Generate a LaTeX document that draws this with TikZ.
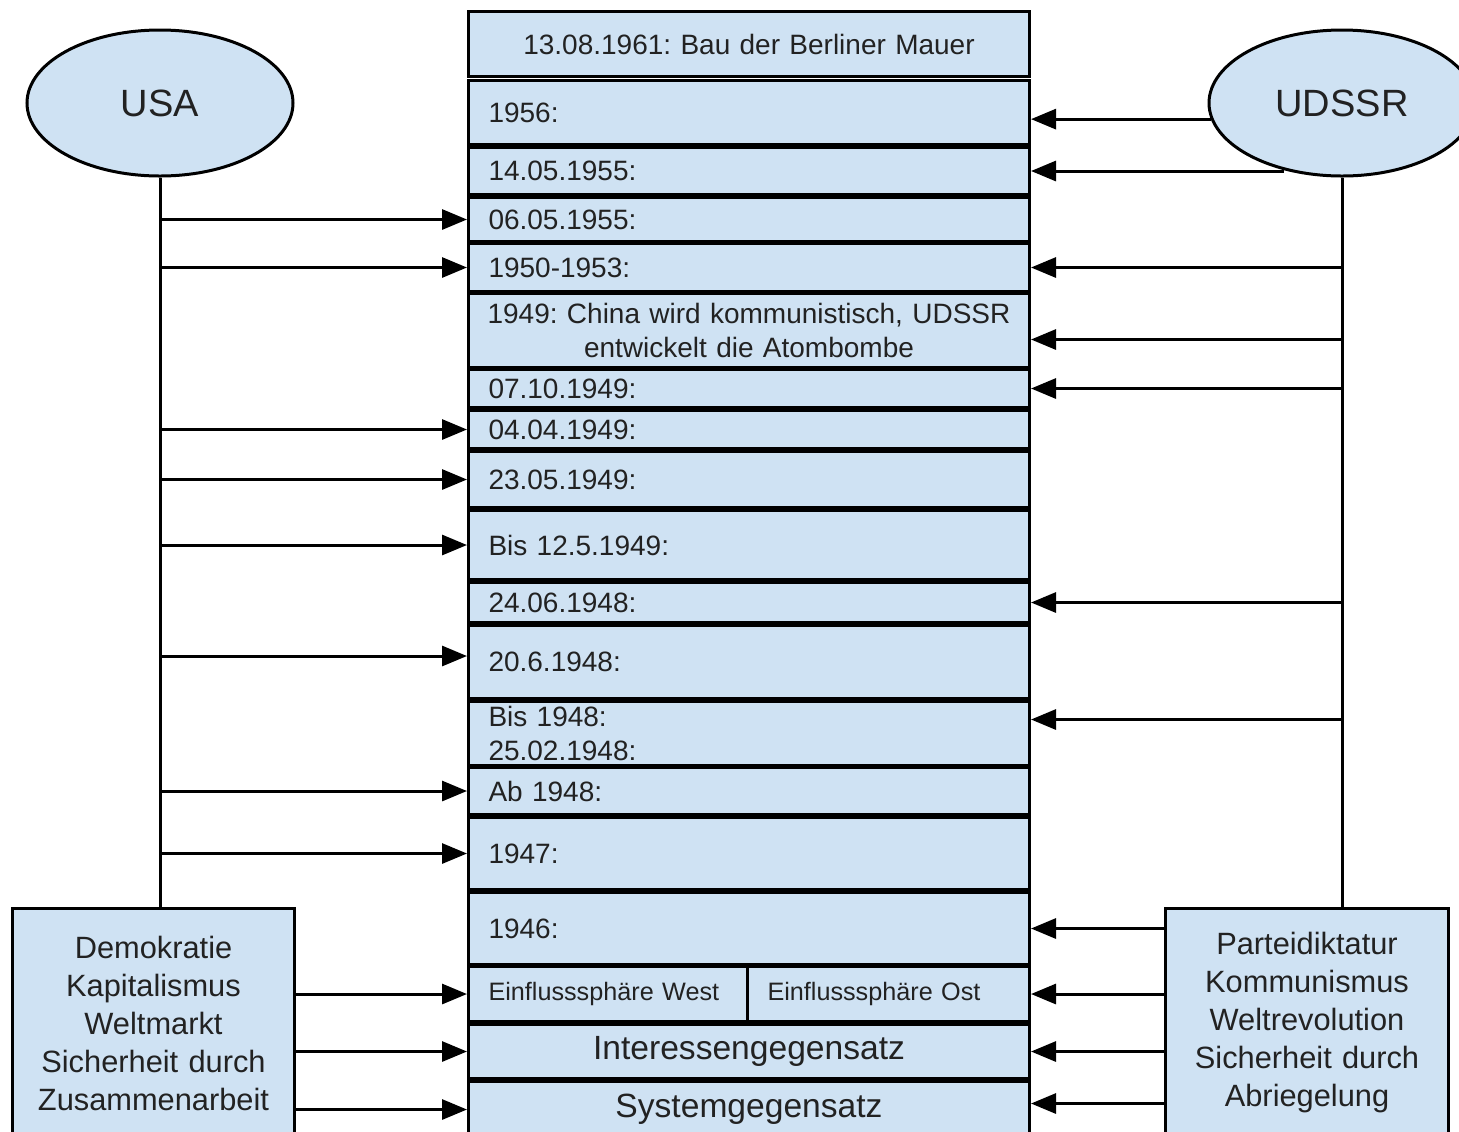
\documentclass[tikz,border=0pt]{standalone}
\usepackage{fontspec}
\setmainfont{Liberation Sans}
\usetikzlibrary{arrows.meta,shapes.geometric}
\definecolor{boxblue}{HTML}{CFE2F3}
\definecolor{textc}{HTML}{222222}
\begin{document}
\frenchspacing
\hyphenpenalty=10000
\begin{tikzpicture}[x=0.5pt,y=-0.5pt,
  base/.style={draw=black, line width=1.5pt, fill=boxblue, text=textc},
  rowbox/.style={base, anchor=north west, minimum width=280.5pt, inner xsep=10pt, inner ysep=0pt, text width=260.5pt, align=left, font=\fontsize{14}{17}\selectfont},
  crow/.style={rowbox, align=center, inner xsep=4pt, text width=272.5pt},
  big/.style={crow, font=\fontsize{16.8}{20}\selectfont},
  half/.style={rowbox, font=\fontsize{12.6}{15}\selectfont},
  ell/.style={base, ellipse, minimum width=133pt, minimum height=73pt, inner sep=0pt, font=\fontsize{19}{23}\selectfont},
  side/.style={base, anchor=north west, inner sep=0pt, text width=130pt, align=center, minimum height=114.5pt, font=\fontsize{15.4}{19}\selectfont},
  arr/.style={line width=1.5pt, -{Triangle[length=12.5pt,width=10pt]}},
  ln/.style={line width=1.5pt},
]
\useasboundingbox (0,0) rectangle (1459,1131);
\clip (0,0) rectangle (1459,1131);

% central column
\node[crow, minimum height=32.5pt] (r1) at (467,10) {13.08.1961: Bau der Berliner Mauer};
\node[rowbox, minimum height=32pt] (r2) at (467,79) {1956:};
\node[rowbox, minimum height=23.5pt] (r3) at (467,146) {14.05.1955:};
\node[rowbox, minimum height=22pt] (r4) at (467,196) {06.05.1955:};
\node[rowbox, minimum height=24pt] (r5) at (467,242) {1950-1953:};
\node[crow, minimum height=37pt] (r6) at (467,292) {1949: China wird kommunistisch, UDSSR\\ entwickelt die Atombombe};
\node[rowbox, minimum height=19pt] (r7) at (467,368) {07.10.1949:};
\node[rowbox, minimum height=19pt] (r8) at (467,409) {04.04.1949:};
\node[rowbox, minimum height=28pt] (r9) at (467,450) {23.05.1949:};
\node[rowbox, minimum height=34.5pt] (r10) at (467,509) {Bis 12.5.1949:};
\node[rowbox, minimum height=20pt] (r11) at (467,581) {24.06.1948:};
\node[rowbox, minimum height=36.5pt] (r12) at (467,624) {20.6.1948:};
\node[rowbox, minimum height=32pt] (r13) at (467,700) {Bis 1948:\\25.02.1948:};
\node[rowbox, minimum height=23.5pt] (r14) at (467,766) {Ab 1948:};
\node[rowbox, minimum height=36pt] (r15) at (467,816) {1947:};
\node[rowbox, minimum height=36pt] (r16) at (467,891) {1946:};
\node[half, minimum height=27.5pt, minimum width=139.5pt, text width=119.5pt] (w17) at (467,965) {Einflusssphäre West};
\node[half, minimum height=27.5pt, minimum width=141pt, text width=121pt] (e17) at (746,965) {Einflusssphäre Ost};
\node[big, minimum height=27pt] (r18) at (467,1023) {Interessengegensatz};
\node[big, minimum height=28pt] (r19) at (467,1080) {Systemgegensatz};

% actors
\node[ell] (usa) at (160,103) {USA};
\node[ell] (udssr) at (1342,103) {UDSSR};
\node[side, minimum width=141pt] (lb) at (11,907) {Demokratie\\Kapitalismus\\Weltmarkt\\Sicherheit durch\\Zusammenarbeit};
\node[side, minimum width=141.5pt] (rb) at (1164,907) {Parteidiktatur\\Kommunismus\\Weltrevolution\\Sicherheit durch\\Abriegelung};

% left connectors
\draw[ln] (usa.south) -- (usa.south |- lb.north);
\foreach \r in {r4,r5,r8,r9,r10,r14,r15}
  \draw[arr] (\r.west -| usa.south) -- (\r.west);
\coordinate (a12) at ([yshift=3pt]r12.west);
\draw[arr] (a12 -| usa.south) -- (a12);
\foreach \r in {w17,r18,r19}
  \draw[arr] (\r.west -| lb.east) -- (\r.west);

% right connectors
\draw[ln] (udssr.south) -- (udssr.south |- rb.north);
\draw[arr] (udssr.187) -- (udssr.187 -| r2.east);
\draw[arr] (r3.east -| udssr.229) -- (r3.east);
\foreach \r in {r5,r7,r11}
  \draw[arr] (\r.east -| udssr.south) -- (\r.east);
\coordinate (b6) at ([yshift=-4.5pt]r6.east);
\draw[arr] (b6 -| udssr.south) -- (b6);
\coordinate (b13) at ([yshift=7pt]r13.east);
\draw[arr] (b13 -| udssr.south) -- (b13);
\foreach \r in {r16,e17,r18}
  \draw[arr] (\r.east -| rb.west) -- (\r.east);
\coordinate (b19) at ([yshift=3pt]r19.east);
\draw[arr] (b19 -| rb.west) -- (b19);
\end{tikzpicture}
\end{document}
